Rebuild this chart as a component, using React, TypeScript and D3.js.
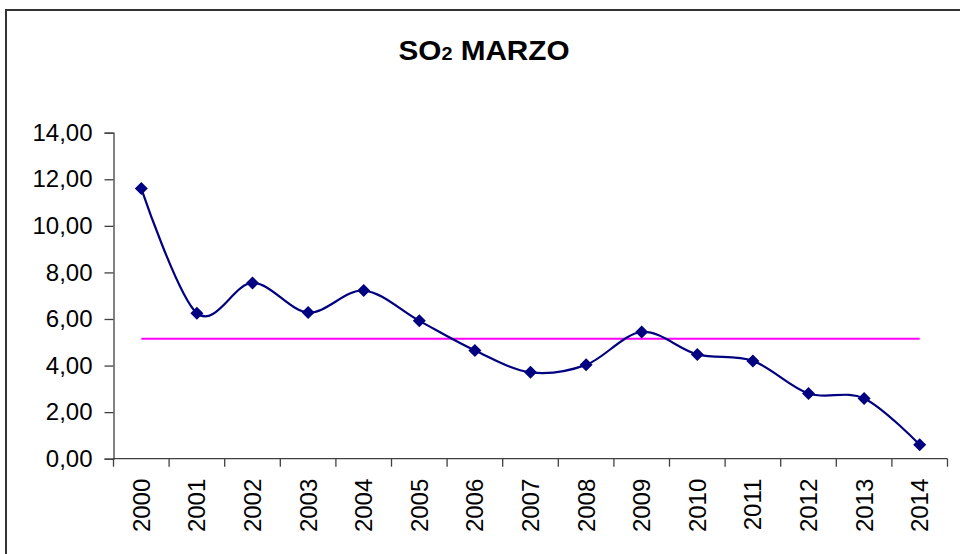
import * as d3 from 'd3';
import React, {useEffect, useRef} from 'react';

// data
const years = ['2000','2001','2002','2003','2004','2005','2006','2007','2008','2009','2010','2011','2012','2013','2014'];
const so2 = [11.6, 6.25, 7.55, 6.28, 7.22, 5.92, 4.65, 3.71, 4.03, 5.44, 4.48, 4.2, 2.8, 2.59, 0.6];
const media = [5.15, 5.15, 5.15, 5.15, 5.15, 5.15, 5.15, 5.15, 5.15, 5.15, 5.15, 5.15, 5.15, 5.15, 5.15];
const yTicks = [0, 2, 4, 6, 8, 10, 12, 14];

const App = () => {
  const svgRef = useRef<SVGSVGElement>(null);

  useEffect(() => {
    const svg = d3.select(svgRef.current);
    svg.selectAll('*').remove();
    const font = 'Liberation Sans, Arial, sans-serif';

    // outer frame
    svg.append('rect')
      .attr('x', 6).attr('y', 10)
      .attr('width', 1000).attr('height', 1000)
      .attr('fill', 'white')
      .attr('stroke', '#333').attr('stroke-width', 2);

    // title
    const title = svg.append('text')
      .attr('x', 0).attr('y', 0)
      .attr('transform', 'translate(484,60) scale(1.1,1)')
      .attr('text-anchor', 'middle')
      .attr('font-family', font)
      .attr('font-weight', 'bold')
      .attr('font-size', 27)
      .attr('fill', '#000');
    title.append('tspan').text('SO');
    title.append('tspan').attr('font-size', 18).text('2');
    title.append('tspan').text(' MARZO');

    const x = d3.scaleBand().domain(years).range([113.5, 947.5]);
    const y = d3.scaleLinear().domain([0, 14]).range([458.7, 132.7]);
    const cx = (d: string) => (x(d) as number) + x.bandwidth() / 2;

    // y axis
    const yAxis = svg.append('g').attr('transform', 'translate(113.5,0)')
      .call(d3.axisLeft(y).tickValues(yTicks).tickSize(9).tickPadding(12)
        .tickFormat(d => d3.format('.2f')(d as number).replace('.', ',')));
    yAxis.select('.domain').attr('stroke', '#404040').attr('stroke-width', 1.3);
    yAxis.selectAll('.tick line').attr('stroke', '#404040').attr('stroke-width', 1.3);
    yAxis.selectAll('.tick text')
      .attr('font-family', font).attr('font-size', 24).attr('fill', '#000');

    // x axis
    const xAxis = svg.append('g').attr('transform', 'translate(0,458.7)');
    xAxis.append('line')
      .attr('x1', 113.5).attr('x2', 947.5).attr('y1', 0).attr('y2', 0)
      .attr('stroke', '#404040').attr('stroke-width', 1.3);
    const edges = years.map(d => x(d) as number).concat([947.5]);
    xAxis.selectAll('line.tk').data(edges).enter().append('line')
      .attr('class', 'tk')
      .attr('x1', d => d).attr('x2', d => d)
      .attr('y1', 0).attr('y2', 8)
      .attr('stroke', '#404040').attr('stroke-width', 1.3);
    xAxis.selectAll('text').data(years).enter().append('text')
      .attr('transform', d => `translate(${cx(d)},20) rotate(-90)`)
      .attr('text-anchor', 'end')
      .attr('dominant-baseline', 'central')
      .attr('font-family', font).attr('font-size', 24).attr('fill', '#000')
      .text(d => d);

    // mean line
    const flat = d3.line<number>().x((_, i) => cx(years[i])).y(d => y(d));
    svg.append('path').datum(media)
      .attr('d', flat)
      .attr('fill', 'none').attr('stroke', '#FF00FF').attr('stroke-width', 2);

    // smoothed series
    const smooth = d3.line<number>()
      .x((_, i) => cx(years[i])).y(d => y(d))
      .curve(d3.curveCardinal.tension(0));
    svg.append('path').datum(so2)
      .attr('d', smooth)
      .attr('fill', 'none').attr('stroke', '#000080').attr('stroke-width', 2.2);

    // diamond markers
    svg.selectAll('path.mk').data(so2).enter().append('path')
      .attr('class', 'mk')
      .attr('d', 'M0,-6.5L6.5,0L0,6.5L-6.5,0Z')
      .attr('transform', (d, i) => `translate(${cx(years[i])},${y(d)})`)
      .attr('fill', '#000080');
  }, []);

  return (
    <svg ref={svgRef} width="960" height="554"
      style={{position: 'absolute', left: 0, top: 0, background: 'white'}}></svg>
  );
};

export default App;
